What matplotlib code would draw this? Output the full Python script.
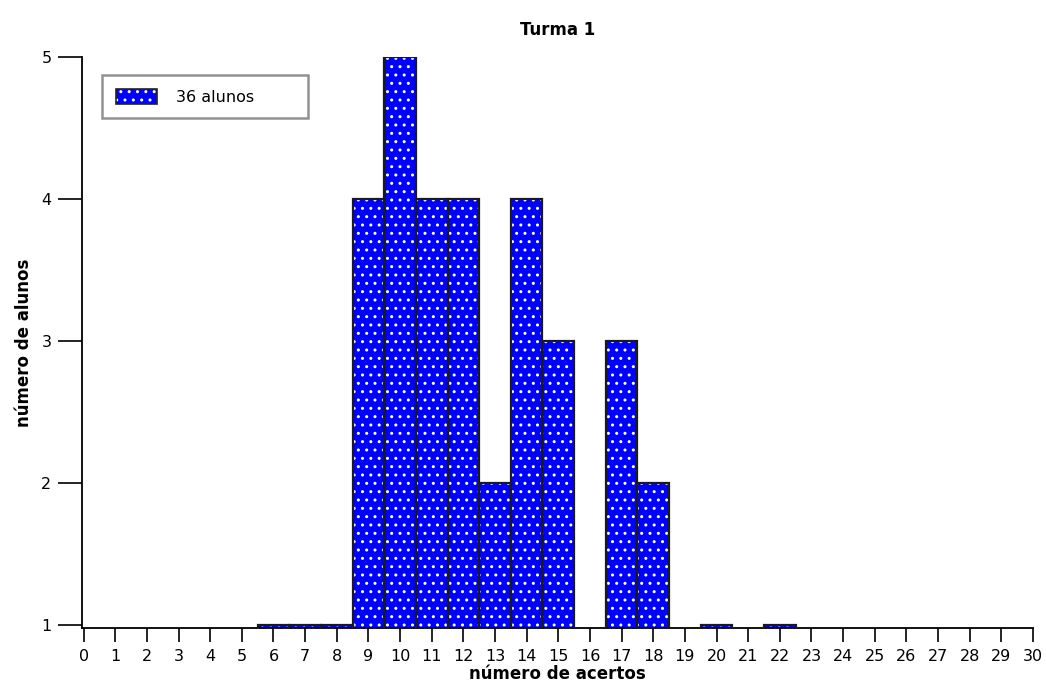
import matplotlib
matplotlib.use('Agg')
import matplotlib.pyplot as plt
import matplotlib.patches as mpatches

# dados
acertos = list(range(0, 31))
alunos = [0, 0, 0, 0, 0, 0, 1, 1, 1, 4, 5, 4, 4, 2, 4, 3, 0, 3, 2, 0, 1, 0, 1,
          0, 0, 0, 0, 0, 0, 0, 0]
rotulo = '36 alunos'
titulo = 'Turma 1'

plt.rcParams['font.family'] = 'DejaVu Sans'
plt.rcParams['hatch.linewidth'] = 1.0

fig = plt.figure(figsize=(10.46, 6.99), dpi=100)
ax = fig.add_axes([0.0784, 0.1016, 0.9092, 0.8169])

xs = [x for x, v in zip(acertos, alunos) if v > 0]
vs = [v for v in alunos if v > 0]

# preenchimento azul com pontinhos brancos
ax.bar(xs, vs, width=1.0, color='#0000ff', edgecolor='white', hatch='..',
       linewidth=0, zorder=2)
# contorno escuro
ax.bar(xs, vs, width=1.0, fill=False, edgecolor='#1a1a1a', linewidth=1.6,
       zorder=3)

ax.set_xlim(-0.05, 30)
ax.set_ylim(0.98, 5)
ax.set_xticks(acertos)
ax.set_yticks([1, 2, 3, 4, 5])
ax.tick_params(axis='x', direction='out', length=10, width=1.2, labelsize=11.5,
               pad=5)
ax.tick_params(axis='y', direction='out', length=17, width=1.2, labelsize=11.5,
               pad=5)

for s in ['top', 'right']:
    ax.spines[s].set_visible(False)
for s in ['left', 'bottom']:
    ax.spines[s].set_linewidth(1.3)

ax.set_title(titulo, fontsize=12, fontweight='bold', pad=16)
ax.set_xlabel('número de acertos', fontsize=12, fontweight='bold',
              labelpad=1)
ax.set_ylabel('número de alunos', fontsize=12, fontweight='bold',
              labelpad=6)

# legenda com caixa mais larga (como no original)
h_fill = mpatches.Patch(facecolor='#0000ff', edgecolor='white', hatch='..',
                        linewidth=0)
h_edge = mpatches.Patch(fill=False, edgecolor='#222222', linewidth=1.2)
leg = ax.legend([(h_fill, h_edge)], [rotulo], loc='upper left',
                bbox_to_anchor=(0.021, 0.968, 0.2166, 0.0), mode='expand',
                fontsize=11.5, frameon=True, fancybox=False,
                edgecolor='#777777', handlelength=2.6, handleheight=1.1,
                borderpad=0.85, handletextpad=1.2, borderaxespad=0)
leg.get_frame().set_linewidth(1.8)

fig.savefig('out.png', dpi=100)
